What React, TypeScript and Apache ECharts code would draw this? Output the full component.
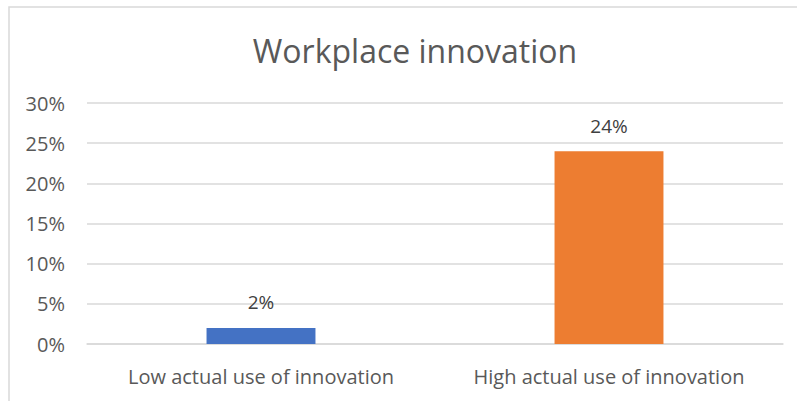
import React, { useEffect, useRef } from "react";
import * as echarts from "echarts";

const categories = ["Low actual use of innovation", "High actual use of innovation"];
const values = [2, 24];
const barColors = ["#4472C4", "#ED7D31"];
const yTicks = { min: 0, max: 30, interval: 5 };
const titleText = "Workplace innovation";

export default function App() {
  const ref = useRef<HTMLDivElement>(null);
  useEffect(() => {
    if (!ref.current) return;
    const chart = echarts.init(ref.current, null, { renderer: "svg" });
    chart.setOption({
      animation: false,
      backgroundColor: "#ffffff",
      textStyle: { fontFamily: "Open Sans" },
      title: {
        text: titleText,
        left: 410,
        textAlign: "center",
        top: 29,
        textStyle: { fontFamily: "Open Sans", fontSize: 32, fontWeight: "normal", color: "#595959" },
      },
      graphic: [
        {
          type: "rect",
          shape: { x: 9, y: 7, width: 800, height: 410 },
          style: { fill: "none", stroke: "#d9d9d9", lineWidth: 1.5 },
          silent: true,
        },
      ],
      grid: { left: 87, right: 14, top: 103, bottom: 57, containLabel: false },
      xAxis: {
        type: "category",
        data: categories,
        axisLine: { show: true, lineStyle: { color: "#d9d9d9", width: 1.5 } },
        axisTick: { show: false },
        axisLabel: {
          color: "#595959",
          fontSize: 20,
          fontFamily: "Open Sans",
          margin: 22,
          interval: 0,
          hideOverlap: false,
        },
      },
      yAxis: {
        type: "value",
        min: yTicks.min,
        max: yTicks.max,
        interval: yTicks.interval,
        axisLine: { show: false },
        axisTick: { show: false },
        splitLine: { lineStyle: { color: "#d9d9d9", width: 1.5 } },
        axisLabel: { color: "#595959", fontSize: 20, fontFamily: "Open Sans", margin: 22, formatter: "{value}%" },
      },
      series: [
        {
          type: "bar",
          data: values.map((v, i) => ({ value: v, itemStyle: { color: barColors[i] } })),
          barWidth: "31.3%",
          label: {
            show: true,
            position: "top",
            distance: 16,
            formatter: "{c}%",
            color: "#404040",
            fontSize: 19,
            fontFamily: "Open Sans",
          },
        },
      ],
    });
    return () => chart.dispose();
  }, []);
  return <div ref={ref} style={{ position: "fixed", left: 0, top: 0, width: 797, height: 401 }} />;
}
